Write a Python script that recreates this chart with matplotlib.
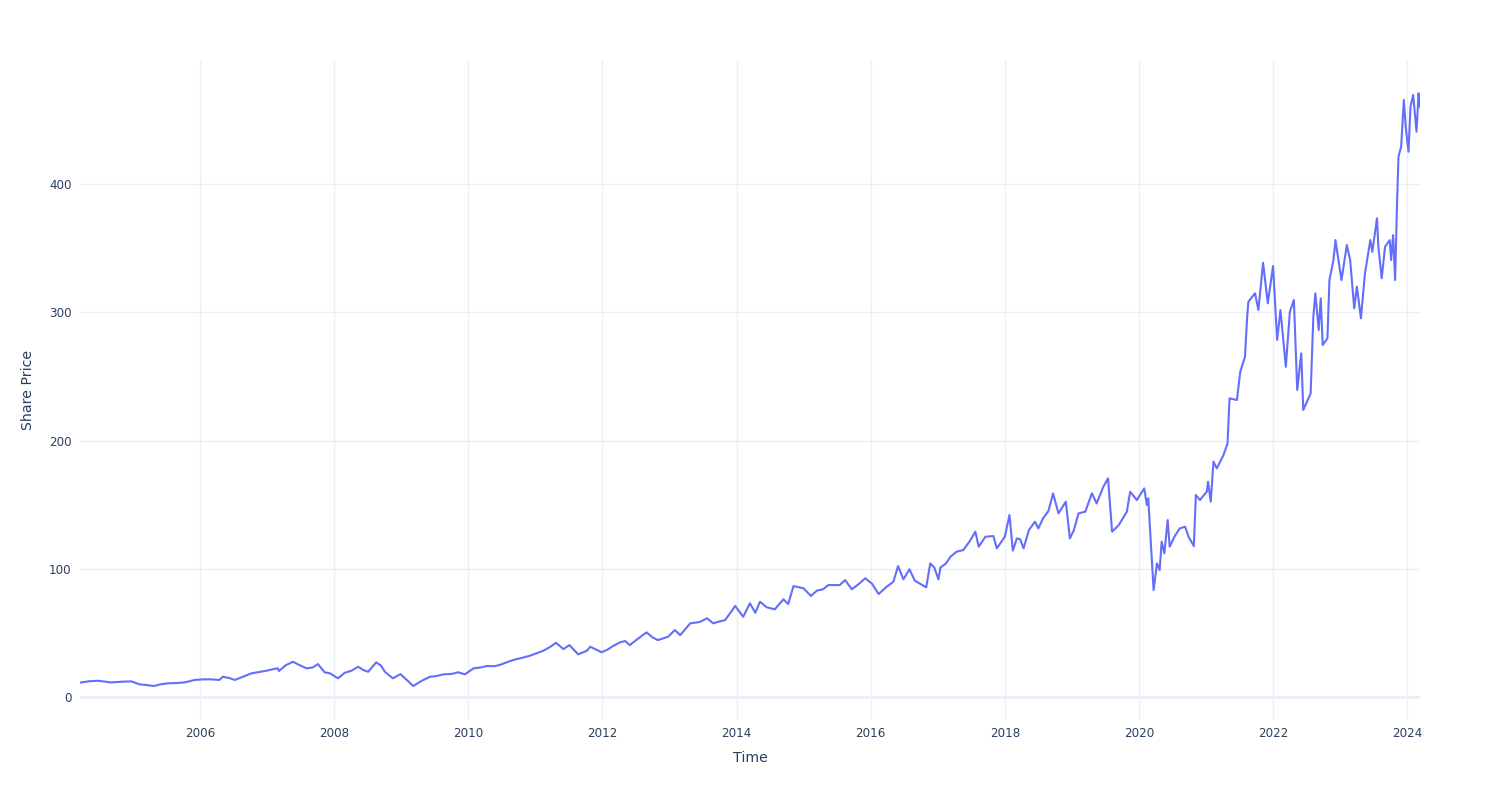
import pandas as pd
import matplotlib
matplotlib.use("Agg")
import matplotlib.pyplot as plt
import matplotlib.dates as mdates

# values (decimal year, share price)
year_pos = [
    2004.21, 2004.35, 2004.48, 2004.68, 2004.85, 2004.98, 2005.10, 2005.20,
    2005.31, 2005.42, 2005.52, 2005.65, 2005.77, 2005.92, 2006.05, 2006.17,
    2006.29, 2006.34, 2006.44, 2006.52, 2006.65, 2006.77, 2006.88, 2006.99,
    2007.08, 2007.16, 2007.18, 2007.28, 2007.39, 2007.48, 2007.59, 2007.68,
    2007.76, 2007.86, 2007.94, 2008.06, 2008.16, 2008.26, 2008.36, 2008.44,
    2008.51, 2008.63, 2008.70, 2008.76, 2008.82, 2008.88, 2008.99, 2009.08,
    2009.18, 2009.30, 2009.43, 2009.53, 2009.63, 2009.75, 2009.85, 2009.95,
    2010.08, 2010.18, 2010.28, 2010.38, 2010.47, 2010.57, 2010.67, 2010.80,
    2010.92, 2011.02, 2011.12, 2011.22, 2011.31, 2011.42, 2011.51, 2011.64,
    2011.77, 2011.82, 2011.99, 2012.08, 2012.16, 2012.26, 2012.34, 2012.41,
    2012.52, 2012.66, 2012.75, 2012.83, 2012.98, 2013.08, 2013.16, 2013.31,
    2013.45, 2013.56, 2013.65, 2013.75, 2013.83, 2013.98, 2014.10, 2014.20,
    2014.28, 2014.35, 2014.45, 2014.57, 2014.70, 2014.77, 2014.85, 2015.00,
    2015.11, 2015.20, 2015.29, 2015.37, 2015.54, 2015.62, 2015.72, 2015.82,
    2015.92, 2016.02, 2016.12, 2016.24, 2016.34, 2016.41, 2016.49, 2016.58,
    2016.66, 2016.75, 2016.83, 2016.89, 2016.95, 2017.01, 2017.04, 2017.12,
    2017.19, 2017.28, 2017.38, 2017.47, 2017.56, 2017.61, 2017.71, 2017.83,
    2017.88, 2018.00, 2018.07, 2018.12, 2018.18, 2018.23, 2018.28, 2018.36,
    2018.45, 2018.50, 2018.57, 2018.65, 2018.72, 2018.80, 2018.91, 2018.97,
    2019.03, 2019.10, 2019.20, 2019.30, 2019.37, 2019.47, 2019.54, 2019.60,
    2019.70, 2019.82, 2019.87, 2019.97, 2020.08, 2020.12, 2020.14, 2020.22,
    2020.27, 2020.31, 2020.34, 2020.38, 2020.43, 2020.46, 2020.53, 2020.61,
    2020.69, 2020.74, 2020.82, 2020.85, 2020.91, 2021.01, 2021.03, 2021.07,
    2021.11, 2021.16, 2021.26, 2021.32, 2021.35, 2021.46, 2021.51, 2021.58,
    2021.61, 2021.63, 2021.73, 2021.78, 2021.85, 2021.92, 2022.00, 2022.06,
    2022.11, 2022.19, 2022.25, 2022.31, 2022.36, 2022.42, 2022.45, 2022.56,
    2022.60, 2022.63, 2022.68, 2022.71, 2022.74, 2022.81, 2022.84, 2022.90,
    2022.93, 2023.02, 2023.10, 2023.15, 2023.21, 2023.25, 2023.31, 2023.37,
    2023.45, 2023.48, 2023.55, 2023.57, 2023.62, 2023.67, 2023.74, 2023.76,
    2023.79, 2023.82, 2023.85, 2023.87, 2023.91, 2023.95, 2023.98, 2024.02,
    2024.05, 2024.09, 2024.14, 2024.17, 2024.19,
]
price = [
    11.2, 12.3, 12.7, 11.4, 12.0, 12.2, 9.9, 9.4,
    8.6, 10.0, 10.7, 10.9, 11.4, 13.3, 13.8, 13.8,
    13.3, 15.8, 14.8, 13.3, 16.0, 18.5, 19.5, 20.5,
    21.6, 22.4, 20.3, 24.8, 27.5, 25.0, 22.4, 23.0,
    25.7, 19.3, 18.5, 14.6, 18.9, 20.5, 23.6, 21.0,
    19.7, 27.1, 24.5, 19.7, 17.0, 14.6, 17.9, 13.5,
    8.6, 12.5, 15.8, 16.4, 17.7, 18.0, 19.3, 17.7,
    22.4, 23.0, 24.2, 24.0, 25.0, 27.0, 28.9, 30.5,
    32.2, 34.1, 36.1, 39.0, 42.3, 37.4, 40.5, 33.3,
    36.1, 39.2, 34.9, 37.0, 39.8, 42.5, 43.7, 40.5,
    45.0, 50.4, 46.5, 44.4, 47.0, 52.2, 48.3, 57.5,
    58.5, 61.4, 57.5, 59.0, 60.0, 71.0, 62.6, 73.1,
    65.7, 74.3, 70.0, 68.4, 76.2, 72.5, 86.5, 84.8,
    78.8, 83.0, 84.0, 87.3, 87.3, 91.2, 84.0, 88.0,
    92.6, 88.5, 80.3, 86.0, 89.9, 102.1, 91.8, 99.6,
    90.7, 88.0, 85.5, 104.2, 101.0, 91.8, 101.1, 104.0,
    109.4, 113.3, 114.6, 121.0, 128.9, 117.2, 125.0, 125.5,
    115.9, 125.0, 141.9, 114.1, 123.7, 123.0, 115.9, 130.2,
    136.7, 131.5, 139.3, 145.0, 158.8, 143.2, 152.3, 123.7,
    130.0, 143.2, 144.5, 158.8, 151.0, 164.0, 170.5, 128.9,
    134.1, 144.5, 160.1, 153.6, 162.7, 149.7, 154.9, 83.4,
    104.2, 99.0, 121.1, 112.0, 138.0, 117.2, 125.0, 131.5,
    132.8, 125.0, 117.7, 157.5, 153.6, 160.1, 167.9, 152.3,
    183.5, 178.3, 188.7, 197.8, 232.9, 231.6, 253.6, 265.3,
    294.0, 308.2, 314.8, 301.8, 338.6, 307.0, 336.1, 278.4,
    301.8, 257.5, 300.4, 309.6, 239.4, 268.0, 223.8, 236.8,
    296.5, 314.8, 286.2, 310.9, 274.5, 279.7, 325.1, 340.7,
    356.3, 325.1, 352.4, 340.7, 303.1, 320.0, 295.3, 330.2,
    356.3, 347.2, 373.3, 351.1, 326.5, 351.1, 356.3, 340.7,
    360.2, 325.1, 387.5, 421.3, 429.1, 465.5, 443.4, 425.2,
    460.3, 469.4, 440.8, 470.7, 460.3,
]
y_ticks = [0, 100, 200, 300, 400]
x_tick_years = list(range(2006, 2025, 2))

dates = [pd.Timestamp(int(t), 1, 1) + pd.Timedelta(days=(t % 1) * 365.25) for t in year_pos]

grid_col = "#EBF0F8"
text_col = "#2a3f5f"
plt.rcParams["font.family"] = ["DejaVu Sans"]

fig = plt.figure(figsize=(15, 8), dpi=100)
ax = fig.add_axes([80 / 1500, 80 / 800, 1340 / 1500, 660 / 800])

ax.plot(dates, price, color="#636efa", linewidth=1.5, zorder=3)

ax.set_xlim(pd.Timestamp("2004-03-19"), pd.Timestamp("2024-03-11"))
ax.set_ylim(-17.9, 496.7)

ax.set_yticks(y_ticks)
ax.set_xticks([pd.Timestamp(y, 1, 1) for y in x_tick_years])
ax.xaxis.set_major_formatter(mdates.DateFormatter("%Y"))

ax.grid(True, color=grid_col, linewidth=1, zorder=0)
ax.axhline(0, color=grid_col, linewidth=2, zorder=1)
for s in ax.spines.values():
    s.set_visible(False)
ax.tick_params(length=0, labelsize=8.6, labelcolor=text_col, pad=6)
ax.tick_params(axis="x", pad=5)

ax.set_xlabel("Time", fontsize=10.2, color=text_col, labelpad=8)
ax.set_ylabel("Share Price", fontsize=10.2, color=text_col, labelpad=10)

fig.savefig("out.png", dpi=100, facecolor="white")
